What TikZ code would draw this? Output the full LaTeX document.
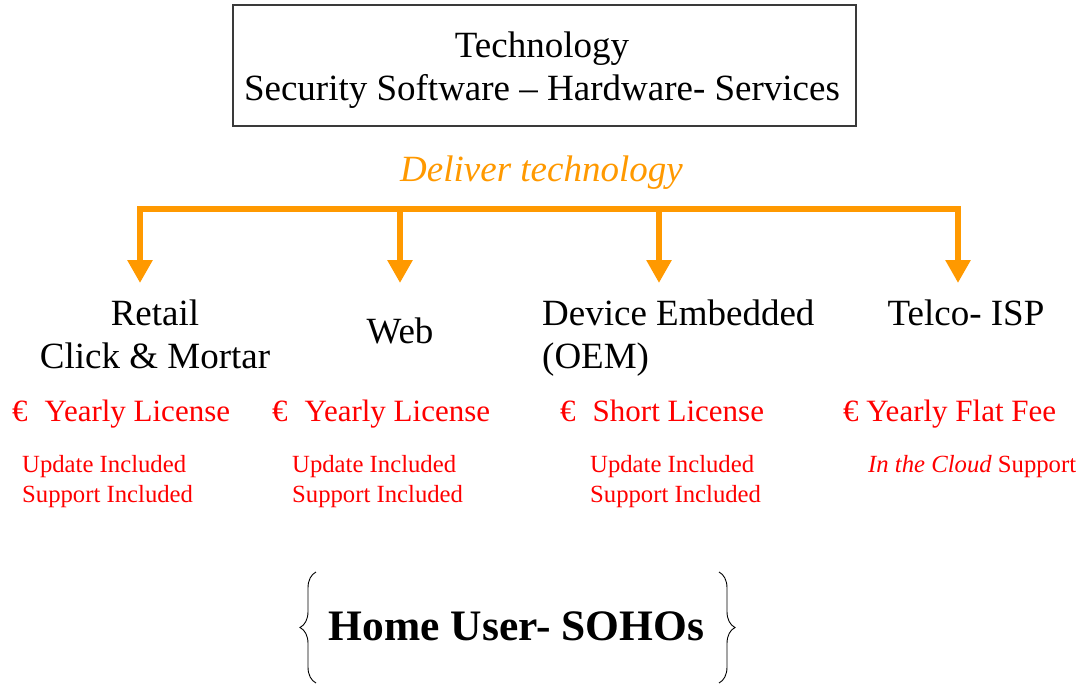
\documentclass[tikz,border=0pt]{standalone}
\usepackage{fontspec}
\setmainfont{Liberation Serif}
\usetikzlibrary{arrows.meta,decorations.pathreplacing,calc}
\definecolor{deliver}{HTML}{FF9900}
\definecolor{price}{HTML}{FF0000}
\definecolor{frame}{HTML}{3A3A3A}
\tikzset{
  big/.style={font=\fontsize{37}{43}\selectfont, inner sep=0pt},
  fee/.style={font=\fontsize{31}{36}\selectfont, text=price, inner sep=0pt, anchor=base west},
  extra/.style={font=\fontsize{24.7}{30}\selectfont, text=price, inner sep=0pt, anchor=base west, align=left},
  drop/.style={draw=deliver, line width=6pt, -{Triangle[width=24pt,length=23pt]}},
  bar/.style={draw=deliver, line width=6pt},
  curly/.style={draw=black, line width=0.9pt, decorate, decoration={brace, amplitude=16pt}}
}
\begin{document}
\begin{tikzpicture}[x=1pt, y=-1pt]
  \useasboundingbox[fill=white] (0,0) rectangle (1087,685);

  % top box (multi-line nodes sit on the baseline of their last line)
  \node[draw=frame, line width=1.2pt, minimum width=623pt, minimum height=121pt, inner sep=0pt] (box) at (544.5,65.5) {};
  \node[big, align=center, anchor=base] (tech) at (542,100) {Technology\\Security Software – Hardware- Services};

  \node[big, text=deliver, font=\fontsize{37}{43}\selectfont\itshape, anchor=base] (deliver) at (541.5,181) {Deliver technology};

  % distribution bar and drops
  \coordinate (b1) at (140,209);
  \coordinate (b2) at (400,209);
  \coordinate (b3) at (659,209);
  \coordinate (b4) at (958,209);
  \coordinate (t1) at (140,283);
  \coordinate (t2) at (400,283);
  \coordinate (t3) at (659,283);
  \coordinate (t4) at (958,283);
  \draw[bar] ($(b1)+(-3,0)$) -- ($(b4)+(3,0)$);
  \draw[drop] (b1) -- (t1);
  \draw[drop] (b2) -- (t2);
  \draw[drop] (b3) -- (t3);
  \draw[drop] (b4) -- (t4);

  % channels
  \node[big, align=center, anchor=base] (retail) at (155,368) {Retail\\Click \& Mortar};
  \node[big, anchor=base] (web) at (400,343) {Web};
  \node[big, align=left, anchor=base west] (oem) at (542,368) {Device Embedded\\(OEM)};
  \node[big, anchor=base] (telco) at (966,325) {Telco- ISP};

  % pricing
  \node[fee] (fee1) at (12,421) {€\hspace{17pt}Yearly License};
  \node[fee] (fee2) at (272,421) {€\hspace{17pt}Yearly License};
  \node[fee] (fee3) at (560,421) {€\hspace{17pt}Short License};
  \node[fee] (fee4) at (843,421) {€ Yearly Flat Fee};

  \node[extra] (inc1) at (22,502) {Update Included\\Support Included};
  \node[extra] (inc2) at (292,502) {Update Included\\Support Included};
  \node[extra] (inc3) at (590,502) {Update Included\\Support Included};
  \node[extra] (inc4) at (868,472) {\textit{In the Cloud} Support};

  % target
  \node[font=\fontsize{43.5}{50}\selectfont\bfseries, inner sep=0pt] (home) at (516.5,626) {Home User- SOHOs};
  \coordinate (lb) at (316,683);
  \coordinate (lt) at (316,572);
  \coordinate (rt) at (719,572);
  \coordinate (rb) at (719,683);
  \draw[curly] (lb) -- (lt);
  \draw[curly] (rt) -- (rb);
\end{tikzpicture}
\end{document}
